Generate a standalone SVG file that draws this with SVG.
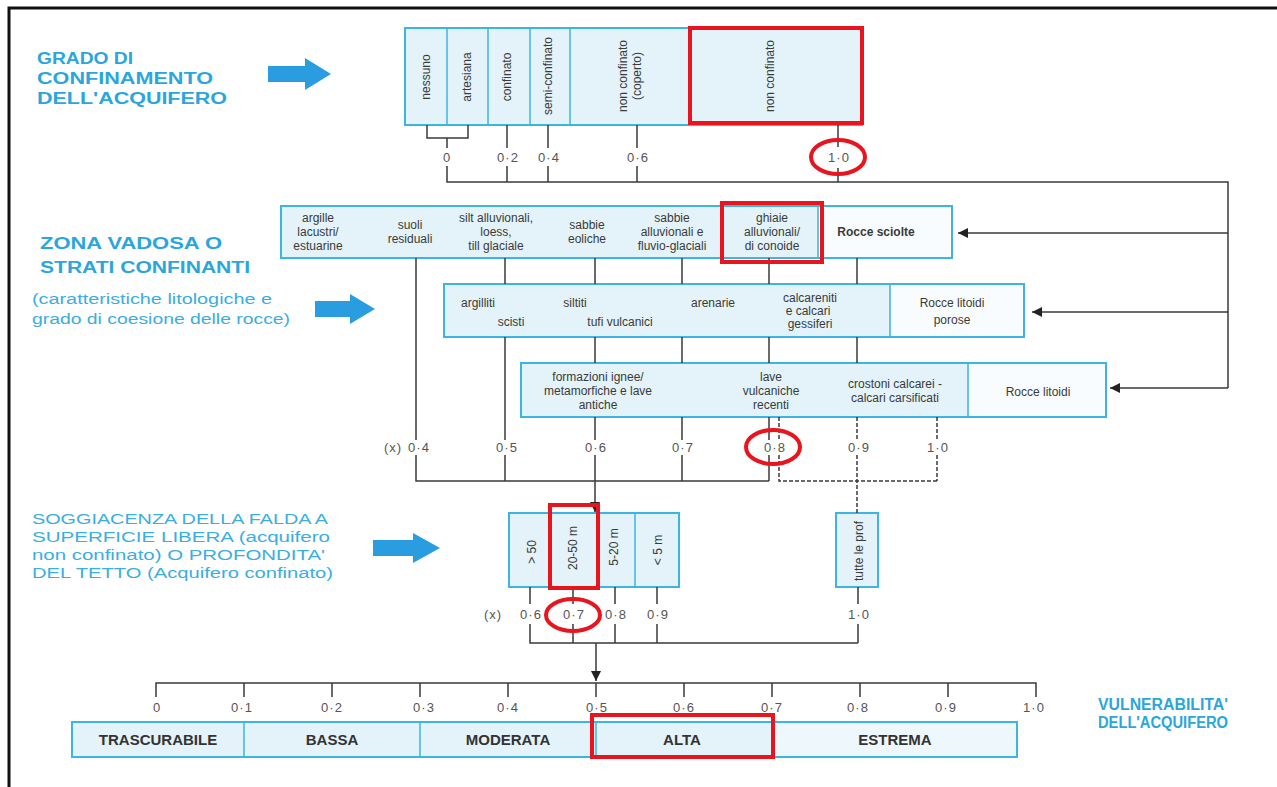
<svg xmlns="http://www.w3.org/2000/svg" width="1277" height="787" viewBox="0 0 1277 787">
<defs>
<style>
.box{fill:#e3f3f9;stroke:#3db5e3;stroke-width:2}
.wcell{fill:#f8fcfe;stroke:none}
.div{stroke:#3db5e3;stroke-width:1.5}
.t{font-family:"Liberation Sans",Arial,sans-serif;font-size:12px;fill:#3a3a3a;text-anchor:middle}
.lab{font-family:"Liberation Sans",Arial,sans-serif;font-size:13px;fill:#555;text-anchor:middle;letter-spacing:1px}
.big{font-family:"Liberation Sans",Arial,sans-serif;font-size:15px;font-weight:bold;fill:#333;text-anchor:middle}
.title{font-family:"Liberation Sans",Arial,sans-serif;font-size:16px;font-weight:bold;fill:#2aa6dc}
.sub{font-family:"Liberation Sans",Arial,sans-serif;font-size:14px;fill:#3aaee0}
.ln{stroke:#3a3a3a;stroke-width:1.5;fill:none}
.dash{stroke:#3a3a3a;stroke-width:1.5;fill:none;stroke-dasharray:4 2}
.red{fill:none;stroke:#e8141e;stroke-width:4}
.barrow{fill:#2a9de0}
</style>
<marker id="ah" viewBox="0 0 10 10" refX="10" refY="5" markerWidth="10" markerHeight="10" markerUnits="userSpaceOnUse" orient="auto">
<path d="M0,0 L10,5 L0,10 z" fill="#222"/>
</marker>
</defs>
<rect x="0" y="0" width="1277" height="787" fill="#ffffff"/>
<path d="M9,787 L9,8 L1277,8" fill="none" stroke="#111" stroke-width="3"/>

<!-- left titles -->
<g id="title-grado">
<text class="title" x="37" y="64" textLength="96" lengthAdjust="spacingAndGlyphs">GRADO DI</text>
<text class="title" x="37" y="84" textLength="176" lengthAdjust="spacingAndGlyphs">CONFINAMENTO</text>
<text class="title" x="37" y="104" textLength="190" lengthAdjust="spacingAndGlyphs">DELL'ACQUIFERO</text>
<path class="barrow" d="M268,66 L305,66 L305,58 L331,74 L305,90 L305,82 L268,82 z"/>
</g>
<g id="title-zona">
<text class="title" x="40" y="249" textLength="182" lengthAdjust="spacingAndGlyphs">ZONA VADOSA O</text>
<text class="title" x="40" y="273" textLength="210" lengthAdjust="spacingAndGlyphs">STRATI CONFINANTI</text>
<text class="sub" x="32" y="304" textLength="240" lengthAdjust="spacingAndGlyphs">(caratteristiche litologiche e</text>
<text class="sub" x="32" y="324" textLength="258" lengthAdjust="spacingAndGlyphs">grado di coesione delle rocce)</text>
<path class="barrow" d="M315,301 L350,301 L350,294 L375,309 L350,324 L350,317 L315,317 z"/>
</g>
<g id="title-soggiacenza">
<text class="sub" x="32" y="524" textLength="296" lengthAdjust="spacingAndGlyphs">SOGGIACENZA DELLA FALDA A</text>
<text class="sub" x="32" y="542" textLength="298" lengthAdjust="spacingAndGlyphs">SUPERFICIE LIBERA (acquifero</text>
<text class="sub" x="32" y="560" textLength="293" lengthAdjust="spacingAndGlyphs">non confinato) O PROFONDITA'</text>
<text class="sub" x="32" y="578" textLength="301" lengthAdjust="spacingAndGlyphs">DEL TETTO (Acquifero confinato)</text>
<path class="barrow" d="M373,540 L413,540 L413,533 L440,548 L413,563 L413,556 L373,556 z"/>
</g>
<g id="title-vulnerabilita">
<text class="title" x="1098" y="710" font-size="14" textLength="130" lengthAdjust="spacingAndGlyphs">VULNERABILITA'</text>
<text class="title" x="1098" y="728" font-size="14" textLength="130" lengthAdjust="spacingAndGlyphs">DELL'ACQUIFERO</text>
</g>

<!-- top box -->
<g id="box-confinamento">
<rect class="box" x="405" y="28" width="457" height="97"/>
<line class="div" x1="447" y1="28" x2="447" y2="125"/>
<line class="div" x1="488" y1="28" x2="488" y2="125"/>
<line class="div" x1="530" y1="28" x2="530" y2="125"/>
<line class="div" x1="570" y1="28" x2="570" y2="125"/>
<line class="div" x1="690" y1="28" x2="690" y2="125"/>
<text class="t" transform="translate(430,77) rotate(-90)">nessuno</text>
<text class="t" transform="translate(471,77) rotate(-90)">artesiana</text>
<text class="t" transform="translate(511,77) rotate(-90)">confinato</text>
<text class="t" transform="translate(552,76) rotate(-90)">semi-confinato</text>
<text class="t" transform="translate(627,76) rotate(-90)">non confinato</text>
<text class="t" transform="translate(641,76) rotate(-90)">(coperto)</text>
<text class="t" transform="translate(774,76) rotate(-90)">non confinato</text>
</g>

<!-- row 2 -->
<g id="box-rocce-sciolte">
<rect class="box" x="281" y="206" width="671" height="52"/>
<rect class="wcell" x="819" y="207" width="132" height="50"/>
<line class="div" x1="818" y1="206" x2="818" y2="258"/>
<text class="t" x="318" y="222">argille</text>
<text class="t" x="318" y="236">lacustri/</text>
<text class="t" x="318" y="250">estuarine</text>
<text class="t" x="410" y="229">suoli</text>
<text class="t" x="410" y="243">residuali</text>
<text class="t" x="496" y="222">silt alluvionali,</text>
<text class="t" x="496" y="236">loess,</text>
<text class="t" x="496" y="250">till glaciale</text>
<text class="t" x="587" y="229">sabbie</text>
<text class="t" x="587" y="243">eoliche</text>
<text class="t" x="672" y="222">sabbie</text>
<text class="t" x="672" y="236">alluvionali e</text>
<text class="t" x="672" y="250">fluvio-glaciali</text>
<text class="t" x="772" y="222" fill="#222">ghiaie</text>
<text class="t" x="772" y="236" fill="#222">alluvionali/</text>
<text class="t" x="772" y="250" fill="#222">di conoide</text>
<text class="t" x="876" y="236" font-weight="bold" fill="#444">Rocce sciolte</text>
</g>

<!-- row 3 -->
<g id="box-rocce-litoidi-porose">
<rect class="box" x="444" y="284" width="580" height="53"/>
<rect class="wcell" x="891" y="285" width="132" height="51"/>
<line class="div" x1="890" y1="284" x2="890" y2="337"/>
<text class="t" x="478" y="307">argilliti</text>
<text class="t" x="511" y="326">scisti</text>
<text class="t" x="575" y="307">siltiti</text>
<text class="t" x="620" y="326">tufi vulcanici</text>
<text class="t" x="713" y="307">arenarie</text>
<text class="t" x="810" y="302">calcareniti</text>
<text class="t" x="808" y="315">e calcari</text>
<text class="t" x="810" y="328">gessiferi</text>
<text class="t" x="952" y="307">Rocce litoidi</text>
<text class="t" x="952" y="324">porose</text>
</g>

<!-- row 4 -->
<g id="box-rocce-litoidi">
<rect class="box" x="521" y="363" width="585" height="54"/>
<rect class="wcell" x="969" y="364" width="136" height="52"/>
<line class="div" x1="968" y1="363" x2="968" y2="417"/>
<text class="t" x="598" y="381">formazioni ignee/</text>
<text class="t" x="598" y="395">metamorfiche e lave</text>
<text class="t" x="598" y="409">antiche</text>
<text class="t" x="771" y="381">lave</text>
<text class="t" x="771" y="395">vulcaniche</text>
<text class="t" x="771" y="409">recenti</text>
<text class="t" x="895" y="388">crostoni calcarei -</text>
<text class="t" x="895" y="402">calcari carsificati</text>
<text class="t" x="1038" y="396">Rocce litoidi</text>
</g>

<!-- soggiacenza -->
<g id="box-soggiacenza">
<rect class="box" x="509" y="513" width="170" height="74"/>
<line class="div" x1="550" y1="513" x2="550" y2="587"/>
<line class="div" x1="597" y1="513" x2="597" y2="587"/>
<line class="div" x1="635" y1="513" x2="635" y2="587"/>
<text class="t" font-size="13" transform="translate(536,552) rotate(-90)">&gt; 50</text>
<text class="t" font-size="13" transform="translate(577,548) rotate(-90)">20-50 m</text>
<text class="t" font-size="13" transform="translate(618,547) rotate(-90)">5-20 m</text>
<text class="t" font-size="13" transform="translate(662,550) rotate(-90)">&lt; 5 m</text>
</g>
<g id="box-tutte">
<rect class="box" x="836" y="513" width="42" height="74"/>
<text class="t" font-size="13" transform="translate(863,551) rotate(-90)">tutte le prof</text>
</g>

<!-- bottom scale box -->
<g id="box-vulnerabilita">
<rect class="box" x="72" y="722" width="945" height="35"/>
<rect x="773" y="723" width="243" height="33" fill="#eef8fc"/>
<line class="div" x1="244" y1="722" x2="244" y2="757"/>
<line class="div" x1="420" y1="722" x2="420" y2="757"/>
<line class="div" x1="596" y1="722" x2="596" y2="757"/>
<line class="div" x1="772" y1="722" x2="772" y2="757"/>
<text class="big" x="158" y="745">TRASCURABILE</text>
<text class="big" x="332" y="745">BASSA</text>
<text class="big" x="508" y="745">MODERATA</text>
<text class="big" x="682" y="745">ALTA</text>
<text class="big" x="895" y="745">ESTREMA</text>
</g>

<!-- connectors -->
<g id="connectors">
<!-- top -->
<path class="ln" d="M427,125 V138 H468 V125 M447,138 V148 M447,166 V182 H1228 V388"/>
<path class="ln" d="M507,125 V148 M507,166 V182 M548,125 V148 M548,166 V182 M637,125 V148 M637,166 V182 M838,125 V147 M838,168 V182"/>
<line class="ln" x1="1228" y1="233" x2="958" y2="233" marker-end="url(#ah)"/>
<line class="ln" x1="1228" y1="312" x2="1032" y2="312" marker-end="url(#ah)"/>
<line class="ln" x1="1228" y1="388" x2="1110" y2="388" marker-end="url(#ah)"/>
<!-- zona vadosa ticks -->
<path class="ln" d="M416,258 V440 M416,455 V481 H769"/>
<path class="ln" d="M505,258 V284 M505,337 V440 M505,455 V481"/>
<path class="ln" d="M595,258 V284 M595,337 V363 M595,417 V440 M595,455 V481"/>
<path class="ln" d="M682,258 V284 M682,337 V363 M682,417 V440 M682,455 V481"/>
<path class="ln" d="M769,258 V284 M769,337 V363 M769,417 V440 M769,455 V481"/>
<path class="ln" d="M857,258 V284 M857,337 V363"/>
<path class="dash" d="M779,417 V440 M779,455 V481 H937 M857,417 V440 M857,455 V513 M937,417 V440 M937,455 V481"/>
<line class="ln" x1="595" y1="481" x2="595" y2="512" marker-end="url(#ah)"/>
<!-- soggiacenza ticks -->
<path class="ln" d="M530,587 V604 M530,624 V643 H858 M573,587 V604 M573,624 V643 M615,587 V604 M615,624 V643 M657,587 V604 M657,624 V643 M858,587 V604 M858,624 V643"/>
<line class="ln" x1="596" y1="643" x2="596" y2="681" marker-end="url(#ah)"/>
<!-- bottom scale -->
<path class="ln" d="M156,697 V683 H1036 V697 M244,683 V697 M332,683 V697 M420,683 V697 M508,683 V697 M596,683 V697 M684,683 V697 M772,683 V697 M860,683 V697 M948,683 V697"/>
</g>

<!-- scale labels -->
<g id="labels">
<text class="lab" x="447" y="162">0</text>
<text class="lab" x="508" y="162">0·2</text>
<text class="lab" x="549" y="162">0·4</text>
<text class="lab" x="638" y="162">0·6</text>
<text class="lab" x="839" y="162">1·0</text>
<text class="lab" x="393" y="452">(x)</text>
<text class="lab" x="419" y="452">0·4</text>
<text class="lab" x="507" y="452">0·5</text>
<text class="lab" x="596" y="452">0·6</text>
<text class="lab" x="683" y="452">0·7</text>
<text class="lab" x="775" y="452">0·8</text>
<text class="lab" x="859" y="452">0·9</text>
<text class="lab" x="938" y="452">1·0</text>
<text class="lab" x="493" y="619">(x)</text>
<text class="lab" x="531" y="619">0·6</text>
<text class="lab" x="574" y="619">0·7</text>
<text class="lab" x="616" y="619">0·8</text>
<text class="lab" x="658" y="619">0·9</text>
<text class="lab" x="859" y="619">1·0</text>
<text class="lab" x="157" y="712">0</text>
<text class="lab" x="242" y="712">0·1</text>
<text class="lab" x="332" y="712">0·2</text>
<text class="lab" x="424" y="712">0·3</text>
<text class="lab" x="508" y="712">0·4</text>
<text class="lab" x="597" y="712">0·5</text>
<text class="lab" x="684" y="712">0·6</text>
<text class="lab" x="772" y="712">0·7</text>
<text class="lab" x="858" y="712">0·8</text>
<text class="lab" x="946" y="712">0·9</text>
<text class="lab" x="1034" y="712">1·0</text>
</g>

<!-- red highlights -->
<g id="highlights">
<rect class="red" x="690" y="28" width="172" height="95"/>
<ellipse class="red" cx="838" cy="157" rx="27" ry="17"/>
<rect class="red" x="722" y="203" width="100" height="59"/>
<ellipse class="red" cx="773" cy="447" rx="27" ry="17"/>
<rect class="red" x="550" y="505" width="48" height="83"/>
<ellipse class="red" cx="573" cy="615" rx="27" ry="16"/>
<rect class="red" x="592" y="715" width="181" height="42"/>
</g>
</svg>
